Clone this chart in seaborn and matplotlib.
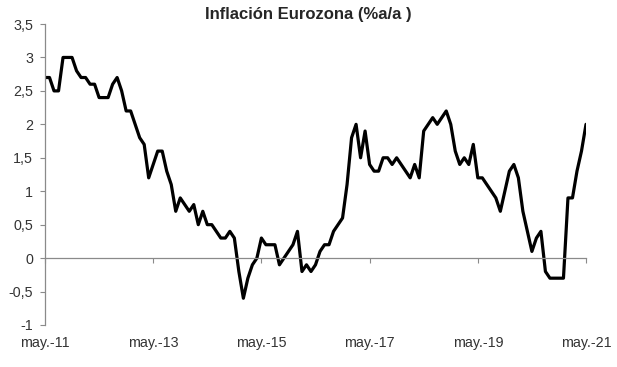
import pandas as pd
import matplotlib
matplotlib.use("Agg")
import matplotlib.pyplot as plt
import seaborn as sns

# Inflación Eurozona, % a/a, mensual de may-2011 a may-2021
meses_2011 = [2.7, 2.7, 2.5, 2.5, 3.0, 3.0, 3.0, 2.8]
meses_2012 = [2.7, 2.7, 2.6, 2.6, 2.4, 2.4, 2.4, 2.6, 2.7, 2.5, 2.2, 2.2]
meses_2013 = [2.0, 1.8, 1.7, 1.2, 1.4, 1.6, 1.6, 1.3, 1.1, 0.7, 0.9, 0.8]
meses_2014 = [0.7, 0.8, 0.5, 0.7, 0.5, 0.5, 0.4, 0.3, 0.3, 0.4, 0.3, -0.2]
meses_2015 = [-0.6, -0.3, -0.1, 0.0, 0.3, 0.2, 0.2, 0.2, -0.1, 0.0, 0.1, 0.2]
meses_2016 = [0.4, -0.2, -0.1, -0.2, -0.1, 0.1, 0.2, 0.2, 0.4, 0.5, 0.6, 1.1]
meses_2017 = [1.8, 2.0, 1.5, 1.9, 1.4, 1.3, 1.3, 1.5, 1.5, 1.4, 1.5, 1.4]
meses_2018 = [1.3, 1.2, 1.4, 1.2, 1.9, 2.0, 2.1, 2.0, 2.1, 2.2, 2.0, 1.6]
meses_2019 = [1.4, 1.5, 1.4, 1.7, 1.2, 1.2, 1.1, 1.0, 0.9, 0.7, 1.0, 1.3]
meses_2020 = [1.4, 1.2, 0.7, 0.4, 0.1, 0.3, 0.4, -0.2, -0.3, -0.3, -0.3, -0.3]
meses_2021 = [0.9, 0.9, 1.3, 1.6, 2.0]

etiquetas_x = ["may.-11", "may.-13", "may.-15", "may.-17", "may.-19", "may.-21"]
ticks_y = [-1, -0.5, 0, 0.5, 1, 1.5, 2, 2.5, 3, 3.5]

inflacion = (meses_2011 + meses_2012 + meses_2013 + meses_2014 + meses_2015
             + meses_2016 + meses_2017 + meses_2018 + meses_2019 + meses_2020
             + meses_2021)
df = pd.DataFrame({"mes": range(len(inflacion)), "inflacion": inflacion})

sns.set_theme(style="white")
plt.rcParams["font.family"] = ["Liberation Sans", "DejaVu Sans"]

fig = plt.figure(figsize=(6.17, 3.67), dpi=100)
ax = fig.add_axes([45 / 617, 1 - 325 / 367, (586 - 45) / 617, 301 / 367])

sns.lineplot(data=df, x="mes", y="inflacion", ax=ax, color="black", linewidth=2.3)

gris = "#8a8a8a"
ax.set_xlim(0, len(inflacion) - 1)
ax.set_ylim(-1, 3.5)
ax.set_xlabel("")
ax.set_ylabel("")

# eje y
ax.set_yticks(ticks_y)
ax.set_yticklabels([f"{v:g}".replace(".", ",") for v in ticks_y])
ax.tick_params(axis="y", left=True, length=3.5, width=0.8, color=gris,
               pad=5, labelsize=10.3, labelcolor="#333333")

# eje x: línea en el cero con marcas, etiquetas abajo
pos_x = list(range(0, len(inflacion), 24))
for s in ["top", "right"]:
    ax.spines[s].set_visible(False)
ax.spines["left"].set_color(gris)
ax.spines["left"].set_linewidth(0.9)
ax.spines["bottom"].set_position(("data", 0))
ax.spines["bottom"].set_color(gris)
ax.spines["bottom"].set_linewidth(0.9)
ax.set_xticks(pos_x)
ax.tick_params(axis="x", bottom=True, length=3.5, width=0.8, color=gris,
               labelbottom=False)

sec = ax.secondary_xaxis("bottom")
sec.set_xticks(pos_x, etiquetas_x)
sec.spines["bottom"].set_visible(False)
sec.tick_params(axis="x", length=0, pad=8, labelsize=10.3, labelcolor="#333333")

fig.suptitle("Inflación Eurozona (%a/a )", x=0.5, y=1 - 15 / 367, va="center",
             fontsize=12, fontweight="bold")

fig.savefig("out.png", dpi=100, facecolor="white")
